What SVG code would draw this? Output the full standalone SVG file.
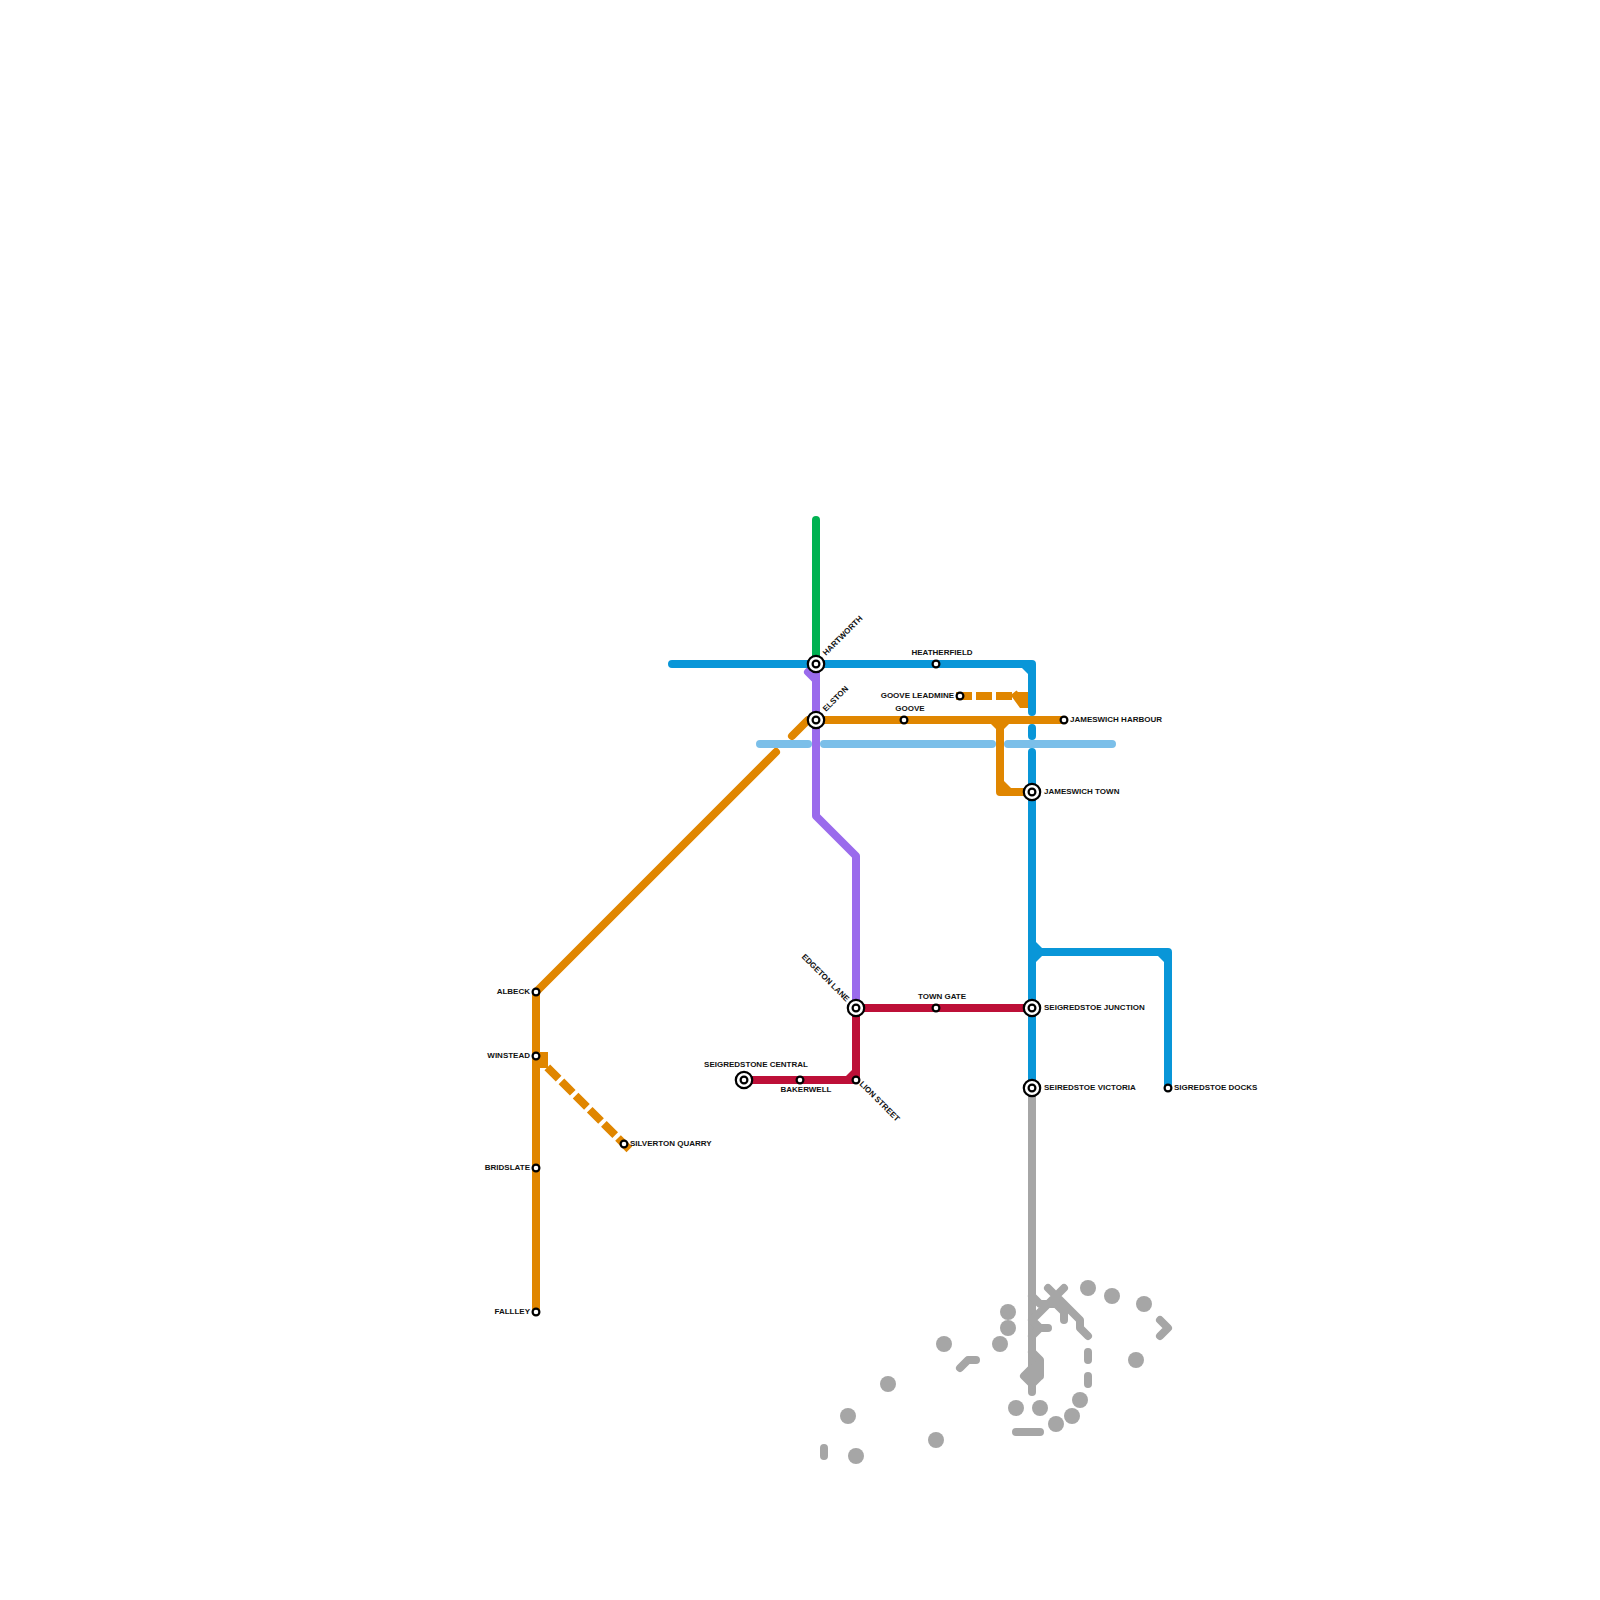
<svg xmlns="http://www.w3.org/2000/svg" width="1600" height="1600" viewBox="0 0 1600 1600">
<style>
.l{fill:none;stroke-width:8;stroke-linecap:round;stroke-linejoin:round}
.b{stroke:#0996d8}.o{stroke:#e08600}.p{stroke:#9a6bec}.g{stroke:#00b251}.r{stroke:#bd1038}.c{stroke:#7bbfe9}.y{stroke:#a6a6a6}
.fb{fill:#0996d8}.fo{fill:#e08600}.fr{fill:#bd1038}
.d{stroke-linecap:butt;stroke-dasharray:16 4}
.dot{fill:#a6a6a6}
.s{fill:#fff;stroke:#000;stroke-width:2.2}
text{font-family:"Liberation Sans",Arial,sans-serif;font-size:8px;font-weight:700;fill:#111}
.e{text-anchor:end}.m{text-anchor:middle}
</style>
<g id="connectors">
<path class="l g" d="M816 520V664"/>
<path class="l p" d="M808 672L816 680V816L856 856V1008M816 664V680"/>
<path class="l y" d="M1032 1088V1392"/>
<path class="l y" d="M1032 1296L1040 1304H1056L1064 1312V1320M1064 1288L1032 1320L1040 1328H1048M1040 1328L1032 1336M1048 1288L1080 1320V1328L1088 1336"/>
<path class="l y" d="M1032 1352L1040 1360V1376L1032 1384L1024 1376L1032 1368H1040M1032 1376H1040"/>
<path class="l y" d="M824 1448V1456M1016 1432H1040M960 1368L968 1360H976M1160 1320L1168 1328L1160 1336M1088 1352V1360M1088 1376V1384"/>
<g id="grey-stops" class="dot">
<circle cx="1008" cy="1312" r="8"/><circle cx="1008" cy="1328" r="8"/><circle cx="1000" cy="1344" r="8"/><circle cx="944" cy="1344" r="8"/><circle cx="888" cy="1384" r="8"/><circle cx="848" cy="1416" r="8"/><circle cx="856" cy="1456" r="8"/><circle cx="936" cy="1440" r="8"/><circle cx="1016" cy="1408" r="8"/><circle cx="1040" cy="1408" r="8"/><circle cx="1056" cy="1424" r="8"/><circle cx="1072" cy="1416" r="8"/><circle cx="1080" cy="1400" r="8"/><circle cx="1088" cy="1288" r="8"/><circle cx="1112" cy="1296" r="8"/><circle cx="1144" cy="1304" r="8"/><circle cx="1136" cy="1360" r="8"/>
</g>
<path class="l b" d="M672 664H1032V712M1032 728V736M1032 752V1088M1032 952H1168V1088"/>
<polygon class="fb" points="1022,668 1028,668 1028,674"/>
<polygon class="fb" points="1036,942 1036,962 1042,956 1042,948"/>
<polygon class="fb" points="1158,956 1164,956 1164,962"/>
<path class="l o" d="M792 736L808 720H1064M776 752L536 992V1312M1000 720V792H1032"/>
<polygon class="fo" points="990,723 997,730 1003,730 1010,723"/>
<polygon class="fo" points="1004,781 1004,788 1011,788"/>
<path class="l o d" d="M956 696H1012"/>
<polygon class="fo" points="1012,694 1016.5,690.5 1018,692 1028,692 1028,708 1020,708 1012,697"/>
<rect class="fo" x="536" y="1052" width="12" height="16"/>
<path class="l o d" d="M547.3 1067.3L629.5 1149.5"/>
<path class="l c" d="M760 744H808M824 744H992M1008 744H1112"/>
<path class="l r" d="M744 1080H856V1008M856 1008H1032"/>
<polygon class="fr" points="846,1076 852,1076 852,1070"/>
</g>
<g id="hartworth"><circle class="s" cx="816" cy="664" r="8.2"/><circle class="s" cx="816" cy="664" r="3.4"/><text transform="translate(826 656) rotate(-45)">HARTWORTH</text></g>
<g id="elston"><circle class="s" cx="816" cy="720" r="8.2"/><circle class="s" cx="816" cy="720" r="3.4"/><text transform="translate(826 712) rotate(-45)">ELSTON</text></g>
<g id="heatherfield"><circle class="s" cx="936" cy="664" r="3.4"/><text class="m" x="942" y="655">HEATHERFIELD</text></g>
<g id="goove"><circle class="s" cx="904" cy="720" r="3.4"/><text class="m" x="910" y="711">GOOVE</text></g>
<g id="goove-leadmine"><circle class="s" cx="960" cy="696" r="3.4"/><text class="e" x="954" y="698">GOOVE LEADMINE</text></g>
<g id="jameswich-harbour"><circle class="s" cx="1064" cy="720" r="3.4"/><text x="1070" y="722">JAMESWICH HARBOUR</text></g>
<g id="jameswich-town"><circle class="s" cx="1032" cy="792" r="8.2"/><circle class="s" cx="1032" cy="792" r="3.4"/><text x="1044" y="794">JAMESWICH TOWN</text></g>
<g id="seigredstoe-junction"><circle class="s" cx="1032" cy="1008" r="8.2"/><circle class="s" cx="1032" cy="1008" r="3.4"/><text x="1044" y="1010">SEIGREDSTOE JUNCTION</text></g>
<g id="seiredstoe-victoria"><circle class="s" cx="1032" cy="1088" r="8.2"/><circle class="s" cx="1032" cy="1088" r="3.4"/><text x="1044" y="1090">SEIREDSTOE VICTORIA</text></g>
<g id="sigredstoe-docks"><circle class="s" cx="1168" cy="1088" r="3.4"/><text x="1174" y="1090">SIGREDSTOE DOCKS</text></g>
<g id="albeck"><circle class="s" cx="536" cy="992" r="3.4"/><text class="e" x="530" y="994">ALBECK</text></g>
<g id="winstead"><circle class="s" cx="536" cy="1056" r="3.4"/><text class="e" x="530" y="1058">WINSTEAD</text></g>
<g id="bridslate"><circle class="s" cx="536" cy="1168" r="3.4"/><text class="e" x="530" y="1170">BRIDSLATE</text></g>
<g id="fallley"><circle class="s" cx="536" cy="1312" r="3.4"/><text class="e" x="530" y="1314">FALLLEY</text></g>
<g id="silverton-quarry"><circle class="s" cx="624" cy="1144" r="3.4"/><text x="630" y="1146">SILVERTON QUARRY</text></g>
<g id="seigredstone-central"><circle class="s" cx="744" cy="1080" r="8.2"/><circle class="s" cx="744" cy="1080" r="3.4"/><text class="m" x="756" y="1067">SEIGREDSTONE CENTRAL</text></g>
<g id="bakerwell"><circle class="s" cx="800" cy="1080" r="3.4"/><text class="m" x="806" y="1092">BAKERWELL</text></g>
<g id="lion-street"><circle class="s" cx="856" cy="1080" r="3.4"/><text transform="translate(859 1084.5) rotate(45)">LION STREET</text></g>
<g id="edgeton-lane"><circle class="s" cx="856" cy="1008" r="8.2"/><circle class="s" cx="856" cy="1008" r="3.4"/><text class="e" transform="translate(846 1002) rotate(45)">EDGETON LANE</text></g>
<g id="town-gate"><circle class="s" cx="936" cy="1008" r="3.4"/><text class="m" x="942" y="999">TOWN GATE</text></g>
</svg>
